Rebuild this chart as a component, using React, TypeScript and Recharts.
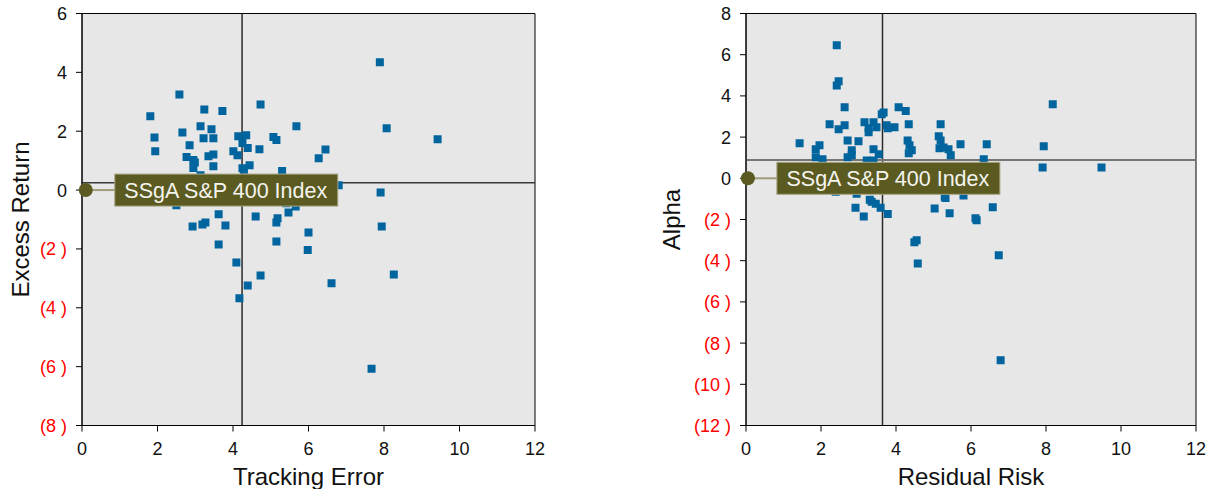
import React from "react";
import {
  ScatterChart,
  Scatter,
  XAxis,
  YAxis,
  ZAxis,
  ReferenceArea,
  ReferenceLine,
  ReferenceDot,
  Label,
} from "recharts";

// Tracking error vs excess return
const teX = [
  2.58, 1.81, 3.24, 3.72, 4.73, 3.14, 3.43, 2.66, 1.92, 3.22, 3.48, 4.14, 4.35, 5.07, 5.15, 5.68, 1.94,
  2.85, 4.25, 4.39, 4.7, 2.77, 2.95, 2.99, 3.35, 3.48, 4.01, 4.12, 2.95, 3.48, 4.25, 4.29, 4.44, 5.3,
  6.45, 6.27, 3.14, 6.8, 7.89, 8.07, 9.42, 7.91, 2.5, 3.62, 4.6, 5.18, 5.47, 5.66, 5.41, 5.15, 2.93,
  3.19, 3.27, 3.8, 6.0, 3.62, 5.15, 5.98, 4.09, 4.73, 4.39, 4.17, 7.94, 8.26, 6.61, 7.67,
];
const erY = [
  3.25, 2.51, 2.74, 2.69, 2.91, 2.17, 2.07, 1.96, 1.79, 1.76, 1.76, 1.83, 1.86, 1.8, 1.7, 2.17, 1.32,
  1.52, 1.6, 1.43, 1.39, 1.12, 1.02, 0.94, 1.15, 1.21, 1.32, 1.18, 0.75, 0.81, 0.74, 0.69, 0.84, 0.65,
  1.38, 1.08, 0.5, 0.16, 4.34, 2.1, 1.73, -0.08, -0.52, -0.82, -0.9, -0.96, -0.76, -0.56, -0.45, -1.1,
  -1.24, -1.17, -1.1, -1.2, -1.44, -1.85, -1.75, -2.04, -2.46, -2.9, -3.24, -3.68, -1.24, -2.87, -3.17,
  -6.07,
];

// Residual risk vs alpha
const rrX = [
  2.42, 2.47, 2.42, 2.63, 3.67, 3.62, 4.07, 4.26, 2.23, 2.63, 2.47, 3.16, 3.4, 3.27, 3.27, 3.48, 3.75,
  3.78, 3.96, 4.34, 5.19, 1.43, 2.71, 3.0, 1.86, 1.96, 2.82, 2.82, 2.71, 3.4, 3.54, 1.86, 2.04, 3.22,
  3.4, 4.31, 4.36, 4.42, 4.34, 5.14, 5.19, 5.16, 5.27, 5.4, 5.46, 5.72, 6.42, 6.34, 8.18, 7.94, 7.91,
  9.48, 2.39, 2.95, 3.3, 3.35, 3.46, 3.59, 3.78, 2.92, 3.14, 5.03, 5.43, 5.3, 5.32, 5.8, 6.12, 6.15,
  6.58, 4.55, 4.49, 4.58, 6.74, 6.79,
];
const alphaY = [
  6.46, 4.71, 4.51, 3.45, 3.2, 3.11, 3.45, 3.27, 2.62, 2.57, 2.38, 2.72, 2.72, 2.43, 2.23, 2.48, 2.57,
  2.43, 2.48, 2.62, 2.62, 1.7, 1.84, 1.8, 1.41, 1.6, 1.36, 1.12, 1.02, 1.41, 1.17, 1.02, 0.92, 0.87,
  0.87, 1.84, 1.6, 1.36, 1.21, 2.04, 1.84, 1.46, 1.5, 1.41, 1.12, 1.65, 1.65, 0.92, 3.59, 1.55, 0.53,
  0.53, -0.65, -0.75, -1.04, -1.14, -1.23, -1.43, -1.73, -1.43, -1.85, -1.46, -1.7, -0.89, -0.96, -0.84,
  -1.94, -2.04, -1.41, -3.01, -3.11, -4.13, -3.74, -8.83,
];

const xTicks = [0, 2, 4, 6, 8, 10, 12];
const leftYTicks = [-8, -6, -4, -2, 0, 2, 4, 6];
const rightYTicks = [-12, -10, -8, -6, -4, -2, 0, 2, 4, 6, 8];

const indexName = "SSgA S&P 400 Index";
const indexTE = 0.1;
const indexRR = 0.05;
const avgTE = 4.24;
const avgER = 0.25;
const avgRR = 3.64;
const avgAlpha = 0.89;

const FONT = "'Liberation Sans', Arial, sans-serif";
const BLUE = "#00659e";
const OLIVE = "#5b5a21";

const leftData = teX.map((x, i) => ({ x, y: erY[i] }));
const rightData = rrX.map((x, i) => ({ x, y: alphaY[i] }));

const fmt = (v: number) => (v < 0 ? `(${-v} )` : `${v}`);

const YTick = (props: any) => {
  const { x, y, payload } = props;
  const v = payload.value;
  return (
    <text x={x} y={y} dy="0.36em" textAnchor="end" fontSize={18} fontFamily={FONT} fill={v < 0 ? "#ff0000" : "#111"}>
      {fmt(v)}
    </text>
  );
};

const XTick = (props: any) => {
  const { x, y, payload } = props;
  return (
    <text x={x} y={y} dy="0.71em" textAnchor="middle" fontSize={18} fontFamily={FONT} fill="#111">
      {payload.value}
    </text>
  );
};

// axis title drawn as plain svg text, centred on the axis box
const XTitle = (props: any) => {
  const { viewBox, value } = props;
  const cx = viewBox.x + viewBox.width / 2;
  return (
    <text x={cx} y={476} dy="0.36em" textAnchor="middle" fontSize={24} fontFamily={FONT} fill="#111">
      {value}
    </text>
  );
};

const IndexMarker = (props: any) => {
  const { cx, cy } = props;
  return (
    <g>
      <line x1={cx} y1={cy} x2={cx + 30} y2={cy} stroke="#9e9c78" strokeWidth={2} />
      <circle cx={cx} cy={cy} r={7} fill={OLIVE} />
      <rect x={cx + 29} y={cy - 16} width={223} height={32} fill={OLIVE} stroke="#a8a684" strokeWidth={1} />
      <text x={cx + 140} y={cy} dy="0.36em" textAnchor="middle" fontSize={21.5} fontFamily={FONT} fill="#f4f4ee">
        {indexName}
      </text>
    </g>
  );
};

type PanelProps = {
  data: { x: number; y: number }[];
  yTicks: number[];
  xLabel: string;
  yLabel: string;
  yAxisWidth: number;
  width: number;
  marginRight: number;
  idxX: number;
  vLine: number;
  hLine: number;
  hStroke: string;
  hWidth: number;
  yLabelDx: number;
};

const Panel = (p: PanelProps) => {
  const yMin = p.yTicks[0];
  const yMax = p.yTicks[p.yTicks.length - 1];
  return (
    <ScatterChart
      width={p.width}
      height={489}
      margin={{ top: 13.5, right: p.marginRight, bottom: 0, left: 0 }}
      style={{ fontFamily: FONT, overflow: "visible" }}
    >
      <XAxis
        type="number"
        dataKey="x"
        domain={[0, 12]}
        ticks={xTicks}
        allowDataOverflow
        height={63.5}
        tickSize={6}
        tickMargin={11}
        stroke="#000"
        tick={<XTick />}
      >
        <Label value={p.xLabel} content={<XTitle />} />
      </XAxis>
      <YAxis
        type="number"
        dataKey="y"
        domain={[yMin, yMax]}
        ticks={p.yTicks}
        allowDataOverflow
        width={p.yAxisWidth}
        tickSize={6}
        tickMargin={9}
        stroke="#000"
        tick={<YTick />}
      >
        <Label
          value={p.yLabel}
          angle={-90}
          position="insideLeft"
          dx={p.yLabelDx}
          style={{ fontSize: 24, fontFamily: FONT, fill: "#111", textAnchor: "middle" }}
        />
      </YAxis>
      <ZAxis range={[50, 50]} />
      <ReferenceArea x1={0} x2={12} y1={yMin} y2={yMax} fill="#e7e7e7" fillOpacity={1} stroke="#000" strokeWidth={1} />
      <ReferenceLine x={p.vLine} stroke="#2a2a2a" strokeWidth={1.5} />
      <ReferenceLine y={p.hLine} stroke={p.hStroke} strokeWidth={p.hWidth} />
      <Scatter data={p.data} fill={BLUE} shape="square" isAnimationActive={false} />
      <ReferenceDot x={p.idxX} y={0} shape={<IndexMarker />} />
    </ScatterChart>
  );
};

export default function App() {
  return (
    <div style={{ position: "relative", width: 1212, height: 489, background: "#fff" }}>
      <style>{`body{margin:0;overflow:hidden}`}</style>
      <div style={{ position: "absolute", left: 0, top: 0 }}>
        <Panel
          data={leftData}
          yTicks={leftYTicks}
          xLabel="Tracking Error"
          yLabel="Excess Return"
          yAxisWidth={82}
          width={560}
          marginRight={25}
          idxX={indexTE}
          vLine={avgTE}
          hLine={avgER}
          hStroke="#3a3a3a"
          hWidth={1.5}
          yLabelDx={15}
        />
      </div>
      <div style={{ position: "absolute", left: 640, top: 0 }}>
        <Panel
          data={rightData}
          yTicks={rightYTicks}
          xLabel="Residual Risk"
          yLabel="Alpha"
          yAxisWidth={106}
          width={572}
          marginRight={16}
          idxX={indexRR}
          vLine={avgRR}
          hLine={avgAlpha}
          hStroke="#767676"
          hWidth={2}
          yLabelDx={26}
        />
      </div>
    </div>
  );
}
